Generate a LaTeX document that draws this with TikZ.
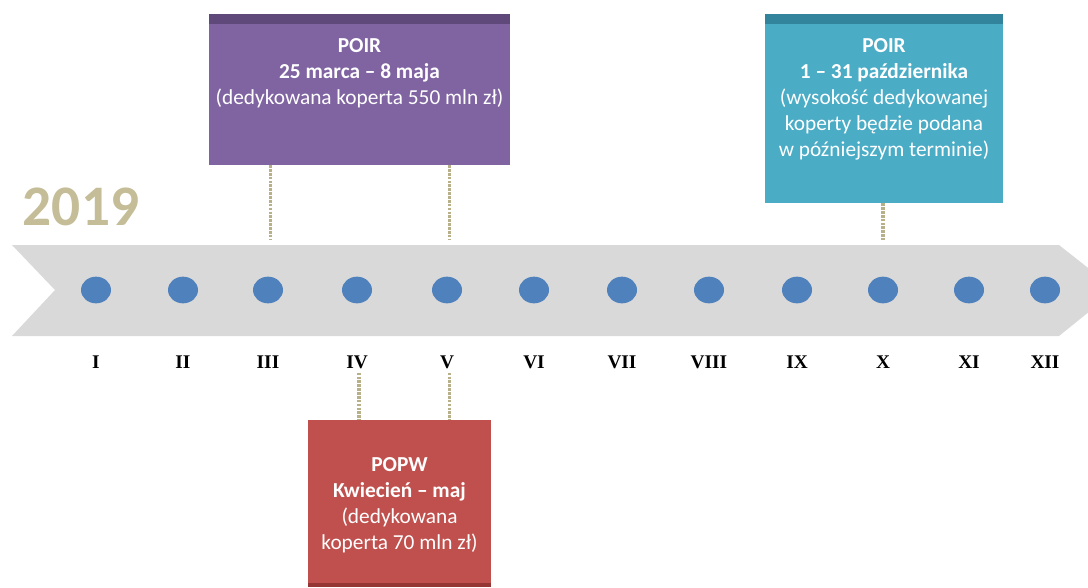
\documentclass[tikz,border=0pt]{standalone}
\usepackage{fontspec}
\setmainfont{Carlito}
\newfontfamily\monthfont{Liberation Serif}
\usetikzlibrary{positioning,shapes.geometric}
\definecolor{poirpurple}{HTML}{8064A2}
\definecolor{poirpurpledk}{HTML}{5F497A}
\definecolor{poirteal}{HTML}{4BACC6}
\definecolor{poirtealdk}{HTML}{31849B}
\definecolor{popwred}{HTML}{C0504D}
\definecolor{popwreddk}{HTML}{943634}
\definecolor{yeartan}{HTML}{C4BD97}
\definecolor{linktan}{HTML}{B8B088}
\definecolor{dotblue}{HTML}{4F81BD}
\definecolor{bandgrey}{HTML}{D9D9D9}

\begin{document}
\begin{tikzpicture}[x=0.75pt,y=-0.75pt,
  month dot/.style={ellipse,fill=dotblue,minimum width=22.5pt,minimum height=20pt,inner sep=0pt},
  month label/.style={font=\monthfont\bfseries\fontsize{14.5}{16}\selectfont,inner sep=1pt},
  call box/.style={rectangle,inner sep=0pt},
  call text/.style={text=white,align=center,inner sep=0pt,font=\fontsize{16}{19.5}\selectfont},
  link/.style={linktan,line width=2.4pt,dash pattern=on 2pt off 0.9pt}]
  \useasboundingbox (0,0) rectangle (1088,587);
  \clip (0,0) rectangle (1088,587);

  % year and timeline band
  \node[text=yeartan,font=\bfseries\fontsize{43}{45}\selectfont] (year) at (81,207) {2019};
  \fill[bandgrey] (12,245) -- (1059,245) -- (1116,290) -- (1059,336) -- (12,336) -- (55,290) -- cycle;
  \coordinate (bandtop) at (0,240);

  % months
  \foreach \x/\m [count=\i] in {96/I,183/II,268/III,357/IV,447/V,534/VI,622/VII,709/VIII,797/IX,883/X,969/XI,1045/XII}{
    \node[month dot] (d\i) at (\x,290) {};
    \node[month label] (m\i) at (\x,362) {\m};
  }

  % calls
  \node[call box,fill=poirpurple,minimum width=226pt,minimum height=113pt] (poir1) at (359.5,89.5) {};
  \fill[poirpurpledk] (poir1.north west) rectangle ([yshift=-7.5pt]poir1.north east);
  \node[call text,anchor=north] (poir1txt) at (359.5,38) {\textbf{POIR}\\\textbf{25 marca -- 8 maja}\\(dedykowana koperta 550 mln zł)};

  \node[call box,fill=poirteal,minimum width=178.5pt,minimum height=141.75pt] (poir2) at (884,108.5) {};
  \fill[poirtealdk] (poir2.north west) rectangle ([yshift=-7.5pt]poir2.north east);
  \node[call text,anchor=north] (poir2txt) at (884,38) {\textbf{POIR}\\\textbf{1 -- 31 października}\\(wysokość dedykowanej\\koperty będzie podana\\w późniejszym terminie)};

  \node[call box,fill=popwred,minimum width=137.25pt,minimum height=125.25pt] (popw) at (399.5,503.5) {};
  \fill[popwreddk] ([yshift=3pt]popw.south west) rectangle (popw.south east);
  \node[call text,anchor=north] (popwtxt) at (399.5,457) {\textbf{POPW}\\\textbf{Kwiecień -- maj}\\(dedykowana\\koperta 70 mln zł)};

  % links to months
  \draw[link] ([xshift=2pt]poir1.south -| d3) -- ([xshift=2pt]bandtop -| d3);
  \draw[link] ([xshift=2pt]poir1.south -| d5) -- ([xshift=2pt]bandtop -| d5);
  \draw[link] (poir2.south -| d10) -- (bandtop -| d10);
  \draw[link] ([xshift=1.5pt,yshift=-2pt]m4.south) -- ([xshift=1.5pt]popw.north -| m4);
  \draw[link] ([xshift=2pt,yshift=-2pt]m5.south) -- ([xshift=2pt]popw.north -| m5);
\end{tikzpicture}
\end{document}
